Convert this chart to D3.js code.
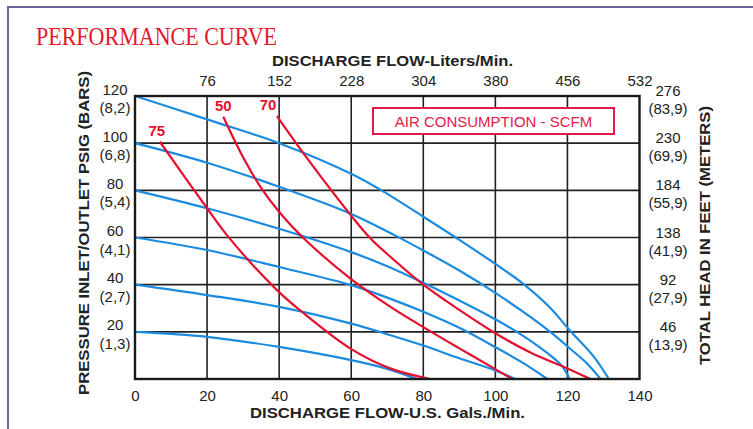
<!DOCTYPE html>
<html>
<head>
<meta charset="utf-8">
<script src="https://cdn.jsdelivr.net/npm/d3@7"></script>
<style>
  body { margin: 0; background: #fff; }
  svg { display: block; }
  text { font-family: "Liberation Sans", Arial, sans-serif; fill: #222; }
</style>
</head>
<body>
<svg id="chart" width="753" height="429"></svg>
<script>
// axis ticks
var gpmTicks = [0, 20, 40, 60, 80, 100, 120, 140]
var literTicks = [76, 152, 228, 304, 380, 456, 532]
var psiTicks = [20, 40, 60, 80, 100, 120]
var barLabels = ['(1,3)', '(2,7)', '(4,1)', '(5,4)', '(6,8)', '(8,2)']
var feetLabels = ['46', '92', '138', '184', '230', '276']
var meterLabels = ['(13,9)', '(27,9)', '(41,9)', '(55,9)', '(69,9)', '(83,9)']

// head curves, [gpm, psi]
var head120 = [[0, 120], [20, 110.1], [40, 100], [60, 87], [70, 78.5], [80, 68.8], [90, 59], [100, 48.8], [108, 40], [115, 30.5], [121, 20], [127.3, 9.5], [131.5, 0]]
var head100 = [[0, 100], [20, 91.7], [40, 81.5], [60, 70], [72, 61], [80, 54.5], [90, 46], [100, 36.5], [110, 26], [116, 19], [121, 12.5], [125.5, 6.5], [129.2, 0]]
var head80 = [[0, 80], [20, 72.4], [40, 63.7], [60, 53.8], [70, 47.8], [80, 40.8], [90, 33.3], [100, 25.3], [108, 18], [114, 11.5], [118.5, 5.5], [120.6, 0]]
var head60 = [[0, 60], [20, 54.7], [40, 47.5], [60, 39.8], [70, 34.5], [80, 28.5], [90, 21.7], [100, 13.5], [108, 6.5], [114.4, 0]]
var head40 = [[0, 40], [20, 35.6], [40, 30.6], [60, 23.5], [70, 19], [80, 14.2], [90, 8.8], [100, 3.6], [105.5, 0]]
var head20 = [[0, 20], [20, 17.9], [40, 13.6], [60, 8], [70, 4.3], [78.2, 0]]

// air consumption curves
var air75 = [[6.9, 100.6], [20, 72.4], [25.5, 61], [39.4, 37.7], [46.8, 27.9], [59.7, 13], [70.8, 4.5], [81.9, 0]]
var air50 = [[24.5, 111.2], [30, 94], [35, 81], [40.3, 70.3], [46.8, 59.7], [59.7, 42.7], [70.8, 30.7], [80, 22], [90, 13], [100, 4.2], [104.6, 0]]
var air70 = [[39.4, 111.5], [48.1, 92.9], [60.6, 68.1], [65.3, 59.7], [70, 53], [80, 40], [90, 29.3], [100, 19.4], [110, 11], [120, 4.5], [126.4, 0]]

var headCurves = [head120, head100, head80, head60, head40, head20]
var airCurves = [air75, air50, air70]
var airNames = ['75', '50', '70']
var airLabelDx = [-3, 0, -9]

var blue = '#1b8be0', red = '#e5102d', pink = '#e4194a'
var tickFont = '"Liberation Sans", Arial, sans-serif'

var svg = d3.select('#chart')

// outer frame
svg.append('path').attr('d', 'M8,429V7H753')
  .attr('fill', 'none').attr('stroke', '#676796').attr('stroke-width', 2)

var x = d3.scaleLinear().domain([0, 140]).range([135, 639.5])
var y = d3.scaleLinear().domain([0, 120]).range([379, 96])

// grid
svg.selectAll('.vgrid').data(gpmTicks.slice(1, -1)).join('line')
  .attr('x1', d => x(d)).attr('x2', d => x(d)).attr('y1', y(0)).attr('y2', y(120))
  .attr('stroke', '#222').attr('stroke-width', 1.6)
svg.selectAll('.hgrid').data(psiTicks.slice(0, -1)).join('line')
  .attr('x1', x(0)).attr('x2', x(140)).attr('y1', d => y(d)).attr('y2', d => y(d))
  .attr('stroke', '#222').attr('stroke-width', 1.6)

// curves
var line = d3.line().x(d => x(d[0])).y(d => y(d[1])).curve(d3.curveCatmullRom.alpha(0.5))

svg.selectAll('.head').data(headCurves).join('path')
  .attr('d', line).attr('fill', 'none').attr('stroke', blue).attr('stroke-width', 2.2)

svg.selectAll('.air').data(airCurves).join('path')
  .attr('d', line).attr('fill', 'none').attr('stroke', red).attr('stroke-width', 2.2)

// plot border
svg.append('rect').attr('x', x(0)).attr('y', y(120))
  .attr('width', x(140) - x(0)).attr('height', y(0) - y(120))
  .attr('fill', 'none').attr('stroke', '#1a1a1a').attr('stroke-width', 2.4)

// curve labels
svg.selectAll('.airlbl').data(airCurves).join('text')
  .attr('x', (d, i) => x(d[0][0]) + airLabelDx[i])
  .attr('y', d => y(d[0][1]) - 6)
  .attr('text-anchor', 'middle')
  .style('font-weight', 'bold').style('font-size', '15px').style('fill', red)
  .text((d, i) => airNames[i])

// legend box
svg.append('rect').attr('x', 373).attr('y', 108).attr('width', 241).attr('height', 26)
  .attr('fill', '#fff').attr('stroke', pink).attr('stroke-width', 2)
svg.append('text').attr('x', 493.5).attr('y', 127).attr('text-anchor', 'middle')
  .style('font-size', '15px').style('fill', pink)
  .text('AIR CONSUMPTION - SCFM')

// bottom axis
var bottomAxis = svg.append('g').attr('transform', `translate(0, ${y(0)})`)
  .call(d3.axisBottom(x).tickValues(gpmTicks).tickSize(0).tickPadding(11))
bottomAxis.select('.domain').remove()
bottomAxis.selectAll('text').style('font-size', '15px').attr('fill', '#222').style('font-family', tickFont)

// top axis
var topAxis = svg.append('g').attr('transform', `translate(0, ${y(120)})`)
  .call(d3.axisTop(x).tickValues(gpmTicks.slice(1)).tickSize(0).tickPadding(10)
    .tickFormat((d, i) => literTicks[i]))
topAxis.select('.domain').remove()
topAxis.selectAll('text').style('font-size', '15px').attr('fill', '#222').style('font-family', tickFont)

// left labels
var left = svg.selectAll('.ylbl').data(psiTicks).join('g')
  .attr('transform', d => `translate(115, ${y(d)})`)
left.append('text').attr('y', -1.5).attr('text-anchor', 'middle').style('font-size', '15px').text(d => d)
left.append('text').attr('y', 17).attr('text-anchor', 'middle').style('font-size', '15px').text((d, i) => barLabels[i])

// right labels
var right = svg.selectAll('.rlbl').data(psiTicks).join('g')
  .attr('transform', d => `translate(668, ${y(d)})`)
right.append('text').attr('y', 0).attr('text-anchor', 'middle').style('font-size', '15px').text((d, i) => feetLabels[i])
right.append('text').attr('y', 18).attr('text-anchor', 'middle').style('font-size', '15px').text((d, i) => meterLabels[i])

// titles
svg.append('text').attr('x', 36).attr('y', 45)
  .attr('textLength', 241).attr('lengthAdjust', 'spacingAndGlyphs')
  .style('font-family', '"Liberation Serif", "Times New Roman", serif')
  .style('font-size', '26px').style('fill', '#e3172c')
  .text('PERFORMANCE CURVE')

svg.append('text').attr('x', 272).attr('y', 66)
  .attr('textLength', 241).attr('lengthAdjust', 'spacingAndGlyphs')
  .style('font-weight', 'bold').style('font-size', '15px')
  .text('DISCHARGE FLOW-Liters/Min.')

svg.append('text').attr('x', 250).attr('y', 418)
  .attr('textLength', 275).attr('lengthAdjust', 'spacingAndGlyphs')
  .style('font-weight', 'bold').style('font-size', '15px')
  .text('DISCHARGE FLOW-U.S. Gals./Min.')

svg.append('text').attr('transform', 'translate(89, 233) rotate(-90)')
  .attr('text-anchor', 'middle')
  .attr('textLength', 324).attr('lengthAdjust', 'spacingAndGlyphs')
  .style('font-weight', 'bold').style('font-size', '15px')
  .text('PRESSURE INLET/OUTLET PSIG (BARS)')

svg.append('text').attr('transform', 'translate(710, 235.5) rotate(-90)')
  .attr('text-anchor', 'middle')
  .attr('textLength', 259).attr('lengthAdjust', 'spacingAndGlyphs')
  .style('font-weight', 'bold').style('font-size', '15px')
  .text('TOTAL HEAD IN FEET (METERS)')
</script>
</body>
</html>
